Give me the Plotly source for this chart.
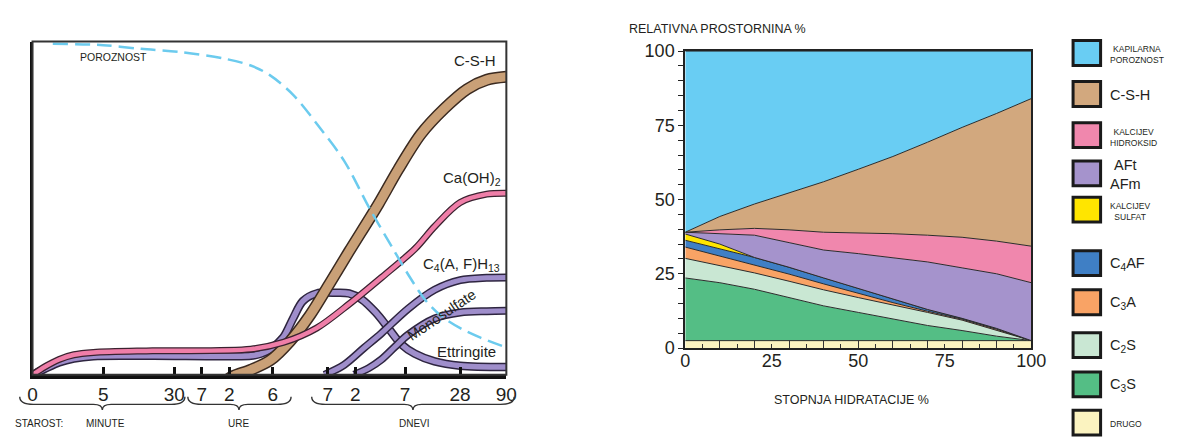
import math
import plotly.graph_objects as go

W, H = 1179, 444
FONT = "Liberation Sans, Arial, Helvetica, sans-serif"
TXT = "#231f20"

# ===================== LEFT CHART DATA =====================
# time in minutes on a log axis; ORIGIN_MIN is the point labelled "0"
ORIGIN_MIN = 0.84
time_ticks_min = [ORIGIN_MIN, 5, 30, 60, 120, 360, 1440, 2880, 10080, 40320, 129600]
time_tick_labels = ["0", "5", "30", "7", "2", "6", "7", "2", "7", "28", "90"]

poroznost_t = [1.4, 5, 13, 36, 108, 206, 330, 600, 1170, 2170, 4140, 7130,
               10900, 16600, 24700, 40500, 66500, 117600]
poroznost_v = [99.3, 98.9, 97.8, 96.8, 94.8, 92.8, 90.0, 84.0, 74.2, 64.2, 49.8, 38.7,
               30.1, 22.6, 17.8, 14.0, 11.2, 8.6]

caoh2_t = [0.84, 1.13, 1.64, 2.38, 3.9, 17.3, 206, 467, 1084, 2456, 5570, 12940,
           21230, 40460, 79070, 129600]
caoh2_v = [0, 2.3, 4.6, 6.0, 6.7, 7.2, 7.7, 9.7, 14.0, 21.2, 29.2, 37.8,
           44.5, 51.7, 54.2, 54.5]

ettringite_t = [0.84, 1.13, 1.64, 2.38, 3.9, 17.3, 206, 264, 338, 467, 598, 766,
                1084, 1780, 2456, 3390, 4800, 6620, 9140, 12940, 21230, 40460, 129600]
ettringite_v = [0, 1.7, 3.7, 4.9, 5.6, 5.7, 5.7, 6.3, 7.7, 11.2, 16.9, 22.1,
                24.4, 24.6, 24.4, 22.6, 18.7, 14.0, 9.2, 6.3, 4.0, 2.7, 2.3]

csh_t = [111, 135, 206, 338, 555, 912, 1497, 2456, 5168, 8487, 15000, 27200,
         48160, 79070, 129600]
csh_v = [-1.7, -0.3, 1.5, 4.4, 10.1, 17.8, 27.3, 37.0, 51.3, 61.6, 72.2, 79.9,
         85.7, 88.5, 89.4]

c4afh13_t = [1320, 2170, 3560, 5570, 10880, 21230, 40460, 79070, 129600]
c4afh13_v = [0, 3.0, 8.0, 12.5, 19.8, 25.5, 28.4, 29.1, 29.2]

monosulfate_t = [2780, 4034, 5570, 7870, 10880, 21230, 40460, 79070, 129600]
monosulfate_v = [0, 2.0, 4.6, 8.5, 12.0, 16.9, 18.7, 19.1, 19.2]

# ===================== RIGHT CHART DATA =====================
hydration = [0, 10, 20, 30, 40, 50, 60, 70, 80, 90, 100]
drugo_top = [2.5, 2.5, 2.5, 2.5, 2.5, 2.5, 2.5, 2.5, 2.5, 2.5, 2.5]
c3s_top = [23.6, 22.0, 19.8, 17.0, 14.2, 12.0, 9.8, 7.6, 5.9, 4.0, 2.5]
c2s_top = [30.2, 27.8, 25.3, 22.5, 19.6, 17.0, 14.6, 12.0, 9.4, 6.0, 2.5]
c3a_top = [34.0, 31.0, 28.0, 24.9, 21.6, 18.4, 15.3, 12.4, 9.7, 6.3, 2.5]
c4af_top = [36.3, 33.5, 30.5, 27.2, 23.6, 20.0, 16.4, 13.0, 10.0, 6.6, 2.5]
sulfat_top = [38.4, 35.0, 30.5, 27.2, 23.6, 20.0, 16.4, 13.0, 10.0, 6.6, 2.5]
aft_afm_top = [39.0, 38.5, 38.0, 35.5, 33.0, 31.8, 30.5, 29.0, 27.0, 25.0, 22.0]
hidroksid_top = [39.0, 39.8, 40.3, 39.8, 39.0, 38.8, 38.5, 38.0, 37.3, 36.0, 34.3]
csh_top = [39.0, 44.3, 48.5, 52.2, 56.0, 60.2, 64.5, 69.3, 74.3, 79.0, 84.0]
pore_top = [100, 100, 100, 100, 100, 100, 100, 100, 100, 100, 100]

layer_names = ["DRUGO", "C3S", "C2S", "C3A", "C4AF", "KALCIJEV SULFAT", "AFt AFm",
               "KALCIJEV HIDROKSID", "C-S-H", "KAPILARNA POROZNOST"]
layer_tops = [drugo_top, c3s_top, c2s_top, c3a_top, c4af_top, sulfat_top, aft_afm_top,
              hidroksid_top, csh_top, pore_top]
layer_colors = ["#fbf3c0", "#54be85", "#c9e7d3", "#f9a365", "#3f7fc5", "#ffe500",
                "#a593cc", "#f087ad", "#d2a87e", "#69cdf3"]

legend_labels = ["KAPILARNA<br>POROZNOST", "C-S-H", "KALCIJEV<br>HIDROKSID", "AFt<br>AFm",
                 "KALCIJEV<br>SULFAT", "C<sub>4</sub>AF", "C<sub>3</sub>A", "C<sub>2</sub>S",
                 "C<sub>3</sub>S", "DRUGO"]
legend_colors = ["#69cdf3", "#d2a87e", "#f087ad", "#a593cc", "#ffe500", "#3f7fc5",
                 "#f9a365", "#c9e7d3", "#54be85", "#fbf3c0"]
legend_small = [True, False, True, False, True, False, False, False, False, True]

# ===================== FIGURE =====================
fig = go.Figure()


def band(t, v, fill, edge, w_in, w_out, name):
    fig.add_trace(go.Scatter(x=t, y=v, mode="lines", xaxis="x", yaxis="y",
                             line=dict(color=edge, width=w_out, shape="spline", smoothing=0.9),
                             hoverinfo="skip", showlegend=False))
    fig.add_trace(go.Scatter(x=t, y=v, mode="lines", xaxis="x", yaxis="y", name=name,
                             line=dict(color=fill, width=w_in, shape="spline", smoothing=0.9),
                             showlegend=False))


PURPLE, PURPLE_E = "#9f8ecb", "#2e2540"
band(ettringite_t, ettringite_v, PURPLE, PURPLE_E, 5.5, 8.5, "Ettringite")
band(c4afh13_t, c4afh13_v, PURPLE, PURPLE_E, 5.0, 8.0, "C4(A,F)H13")
band(monosulfate_t, monosulfate_v, PURPLE, PURPLE_E, 5.0, 8.0, "Monosulfate")
band(csh_t, csh_v, "#c9a077", "#3b2a20", 9.0, 12.0, "C-S-H")
band(caoh2_t, caoh2_v, "#ef7ea8", "#3b2230", 4.5, 7.0, "Ca(OH)2")
fig.add_trace(go.Scatter(x=poroznost_t, y=poroznost_v, mode="lines", xaxis="x", yaxis="y",
                         name="POROZNOST",
                         line=dict(color="#6ccbee", width=2.5, dash="15px,7px",
                                   shape="spline", smoothing=0.9),
                         showlegend=False))

# right stacked areas
for i, (nm, top, col) in enumerate(zip(layer_names, layer_tops, layer_colors)):
    fig.add_trace(go.Scatter(x=hydration, y=top, xaxis="x2", yaxis="y2", mode="lines",
                             name=nm, fill="tozeroy" if i == 0 else "tonexty",
                             fillcolor=col, line=dict(color="#2b2b2b", width=1),
                             showlegend=False))
# carrier trace for the label axis
fig.add_trace(go.Scatter(x=[0, 100], y=[0, 0], xaxis="x3", yaxis="y2", mode="lines",
                         line=dict(width=0, color="rgba(0,0,0,0)"), hoverinfo="skip",
                         showlegend=False))

LX0, LX1, LYT, LYB = 28, 510, 33, 382
RX0, RX1, RYT, RYB = 692, 1044, 43, 354

fig.update_layout(
    width=W, height=H, margin=dict(l=0, r=0, t=0, b=0), autosize=False,
    paper_bgcolor="white", plot_bgcolor="white", showlegend=False,
    font=dict(family=FONT, color=TXT),
    xaxis=dict(domain=[LX0 / W, LX1 / W], type="log", anchor="y",
               range=[math.log10(ORIGIN_MIN), math.log10(time_ticks_min[-1])],
               tickmode="array", tickvals=time_ticks_min, ticktext=time_tick_labels,
               ticks="inside", ticklen=8, tickwidth=2.5, tickcolor="#111",
               showline=True, linewidth=3.5, linecolor="#111", showgrid=False,
               zeroline=False, tickfont=dict(size=19, color=TXT, family=FONT)),
    yaxis=dict(domain=[1 - LYB / H, 1 - LYT / H], range=[0, 100], anchor="x",
               showticklabels=False, ticks="", showline=True, linewidth=3,
               linecolor="#111", showgrid=False, zeroline=False),
    xaxis2=dict(domain=[RX0 / W, RX1 / W], range=[0, 100], anchor="y2",
                tickmode="array", tickvals=list(range(0, 101, 10)), ticks="inside",
                ticklen=8, tickwidth=1, tickcolor="#333", showticklabels=False,
                minor=dict(tickmode="array", tickvals=list(range(5, 100, 10)),
                           ticks="inside", ticklen=4, tickwidth=1, tickcolor="#333"),
                showline=True, mirror=True, linewidth=2, linecolor="#222",
                showgrid=False, zeroline=False),
    xaxis3=dict(overlaying="x2", anchor="y2", range=[0, 100], side="bottom",
                tickmode="array", tickvals=[0, 25, 50, 75, 100], ticks="",
                showline=False, showgrid=False, zeroline=False,
                tickfont=dict(size=18, color=TXT, family=FONT)),
    yaxis2=dict(domain=[1 - RYB / H, 1 - RYT / H], range=[0, 100], anchor="x2",
                tick0=0, dtick=25, ticks="outside", ticklen=5, tickwidth=1.2,
                tickcolor="#222",
                minor=dict(dtick=5, ticks="outside", ticklen=5, tickwidth=1.2,
                           tickcolor="#222"),
                showline=True, mirror=True, linewidth=2, linecolor="#222",
                showgrid=False, zeroline=False,
                tickfont=dict(size=18, color=TXT, family=FONT)),
)

# frame of left chart (top / right edges)
fig.add_shape(type="rect", xref="x domain", yref="y domain", x0=0, x1=1, y0=0, y1=1,
              line=dict(color="#333", width=2))


def px(x):
    return x / W


def py(y):
    return 1 - y / H


def text(t, x, y, size, xanchor="left", yanchor="middle", angle=0, color=TXT):
    fig.add_annotation(text=t, x=px(x), y=py(y), xref="paper", yref="paper",
                       xanchor=xanchor, yanchor=yanchor, showarrow=False,
                       textangle=angle, font=dict(family=FONT, size=size, color=color))


# left chart labels
text("POROZNOST", 110, 49, 10.5, "center")
text("C-S-H", 501, 53, 15, "right")
text("Ca(OH)<sub>2</sub>", 507, 176, 15, "right")
text("C<sub>4</sub>(A, F)H<sub>13</sub>", 506, 267, 15, "right")
text("Monosulfate", 444, 319, 14.5, "center", angle=-34)
text("Ettringite", 501, 358, 15, "right")


# braces under the time axis
def brace(x0, x1, xm, ytop=405, ymid=413, ytip=419, r_end=14, r_tip=9):
    P = lambda x, y: f"{px(x):.5f},{py(y):.5f}"
    path = (f"M {P(x0, ytop)} Q {P(x0, ymid)} {P(x0 + r_end, ymid)} "
            f"L {P(xm - r_tip, ymid)} Q {P(xm, ymid)} {P(xm, ytip)} "
            f"Q {P(xm, ymid)} {P(xm + r_tip, ymid)} "
            f"L {P(x1 - r_end, ymid)} Q {P(x1, ymid)} {P(x1, ytop)}")
    fig.add_shape(type="path", path=path, xref="paper", yref="paper",
                  line=dict(color="#333", width=1.4))


brace(15, 183, 99)
brace(186, 291, 238)
brace(312, 518, 415)
text("STAROST:", 35, 433, 10, "center")
text("MINUTE", 102, 433, 10, "center")
text("URE", 238, 433, 10, "center")
text("DNEVI", 417, 433, 10, "center")

# right chart axis titles
text("RELATIVNA PROSTORNINA %", 633, 20, 12.5, "left")
text("STOPNJA HIDRATACIJE %", 861, 408, 12.5, "center")

# custom legend
box_centers = [45, 88, 131, 171, 209, 265, 306, 351, 392, 432]
for lab, col, small, cy in zip(legend_labels, legend_colors, legend_small, box_centers):
    fig.add_shape(type="rect", xref="paper", yref="paper",
                  x0=px(1086.5), x1=px(1114.5), y0=py(cy + 13), y1=py(cy - 13),
                  line=dict(color="#1a1a1a", width=3), fillcolor=col)
    if small:
        text(lab, 1122, cy + 2, 8.5, "left")
    else:
        text(lab, 1122, cy + 1, 14.5, "left")

fig.write_html("out.html", config={"displayModeBar": False})
